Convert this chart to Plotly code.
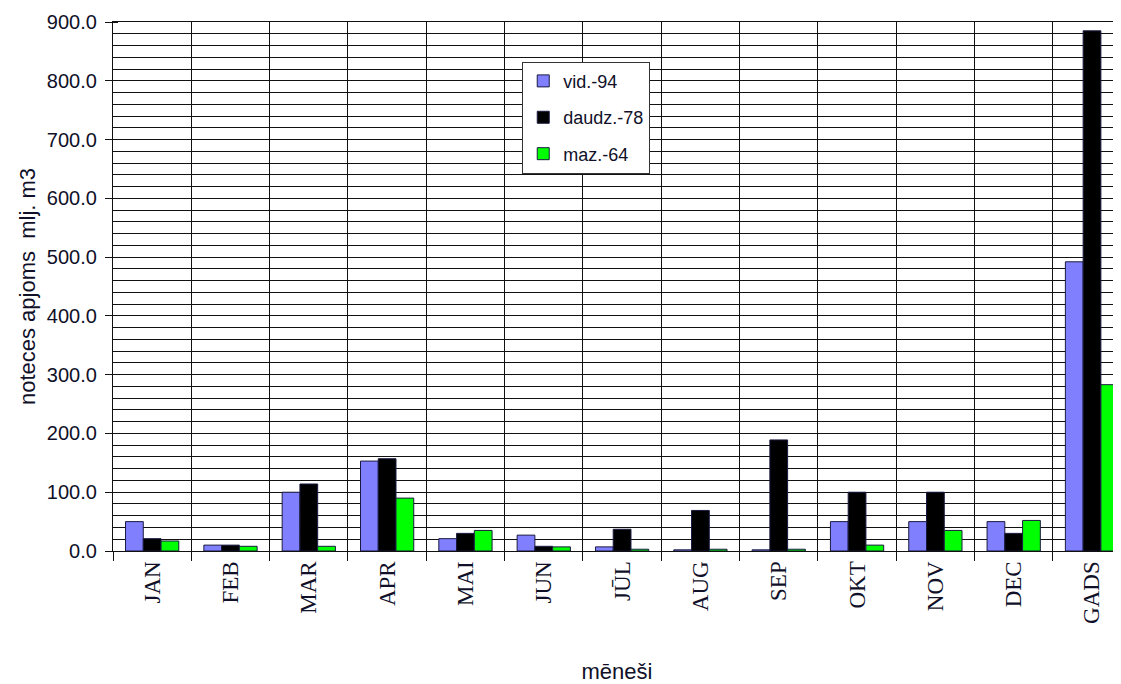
import plotly.graph_objects as go

months = ["JAN", "FEB", "MAR", "APR", "MAI", "JUN", "JŪL", "AUG", "SEP", "OKT", "NOV", "DEC", "GADS"]
vid_94 = [50, 10, 100, 153, 21, 27, 7, 2, 2, 50, 50, 50, 492]
daudz_78 = [21, 10, 114, 157, 30, 8, 37, 69, 189, 100, 100, 30, 885]
maz_64 = [17, 8, 8, 90, 35, 7, 3, 3, 3, 10, 35, 52, 283]

series = [
    ("vid.-94", vid_94, "#8080FF"),
    ("daudz.-78", daudz_78, "#000000"),
    ("maz.-64", maz_64, "#00FF00"),
]

fig = go.Figure()
for name, vals, col in series:
    fig.add_trace(go.Bar(
        x=months, y=vals, name=name, legendgroup=name,
        marker=dict(color=col, line=dict(color="#1a1a40", width=1)),
    ))

txt = "#101028"
grid = "#111111"

# page body has an 8px default margin; size the figure to fit the 1121x684 window
fig.update_layout(
    width=1113, height=676,
    margin=dict(l=105, r=0, t=14, b=133),
    paper_bgcolor="white", plot_bgcolor="white",
    barmode="group", bargap=0.32, bargroupgap=0,
    showlegend=True,
    legend=dict(
        x=0.406, y=0.925, xanchor="left", yanchor="top",
        bgcolor="white", bordercolor="#333333", borderwidth=1,
        font=dict(family="Liberation Sans", size=18, color=txt),
        traceorder="grouped", tracegroupgap=10,
        itemwidth=30,
    ),
    xaxis=dict(
        type="category",
        automargin=False,
        range=[-0.5, 12.37],
        tickangle=-90,
        tickfont=dict(family="Liberation Serif", size=23, color=txt),
        tickson="boundaries", ticks="outside", ticklen=9, tickcolor=grid,
        showgrid=True, gridcolor=grid, gridwidth=1.2,
        showline=True, linecolor=grid, linewidth=1.2, mirror=True,
        title=dict(text="mēneši", font=dict(family="Liberation Sans", size=22, color=txt), standoff=40),
    ),
    yaxis=dict(
        automargin=False,
        range=[0, 900],
        tickmode="linear", tick0=0, dtick=100,
        tickformat=".1f",
        tickfont=dict(family="Liberation Sans", size=20, color=txt),
        ticks="outside", ticklen=7, tickcolor=grid,
        ticklabelstandoff=4,
        showgrid=True, gridcolor=grid, gridwidth=1.2,
        minor=dict(dtick=20, showgrid=True, gridcolor=grid, gridwidth=1.2, ticks="inside", ticklen=5, tickcolor=grid),
        showline=True, linecolor=grid, linewidth=1.2,
        zeroline=False,
        title=dict(text="noteces apjoms  mlj. m3", font=dict(family="Liberation Sans", size=22, color=txt), standoff=5),
    ),
)

fig.write_html("out.html")
